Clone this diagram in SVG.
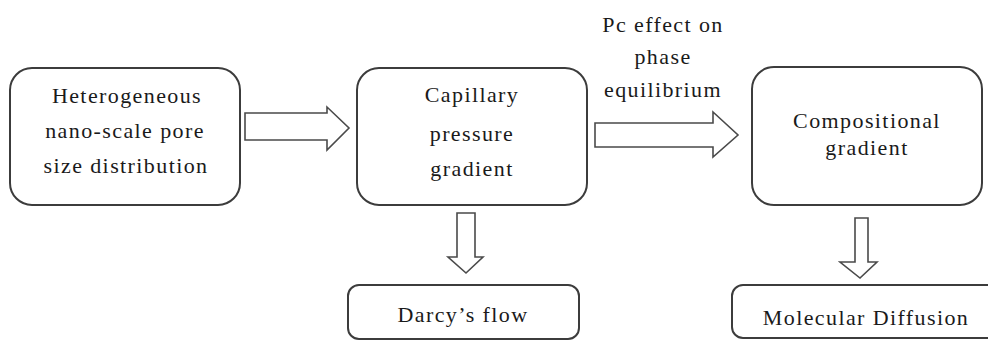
<svg xmlns="http://www.w3.org/2000/svg" width="988" height="343" viewBox="0 0 988 343">
<style>
.box{fill:#fff;stroke:#3c3c3c;stroke-width:2}
.arr{fill:#fff;stroke:#4a4a4a;stroke-width:1.6;stroke-linejoin:miter}
.t{font-family:'Liberation Serif',serif;font-size:22px;fill:#1a1a1a;text-anchor:middle;letter-spacing:1.4px}
</style>
<rect width="988" height="343" fill="#fff"/>
<g id="connectors">
<path class="arr" d="M245,113 H327 V107 L349,128 L327,150 V140 H245 Z"/>
<path class="arr" d="M595,123 H713 V112 L738,135 L713,157 V147 H595 Z"/>
<path class="arr" d="M457,213 H475 V257 H483 L466,273 L448,257 H457 Z"/>
<path class="arr" d="M855,218 H868 V262 H877 L860,278 L840,262 H855 Z"/>
</g>
<g id="node-pore">
<rect class="box" x="10" y="68" width="230" height="137" rx="22"/>
<text class="t" x="127" y="103">Heterogeneous</text>
<text class="t" x="125" y="138">nano-scale pore</text>
<text class="t" x="126" y="173">size distribution</text>
</g>
<g id="node-capillary">
<rect class="box" x="357" y="68" width="230" height="137" rx="22"/>
<text class="t" x="472" y="102">Capillary</text>
<text class="t" x="472" y="141">pressure</text>
<text class="t" x="472" y="176">gradient</text>
</g>
<g id="label-pc">
<text class="t" x="663" y="32">Pc effect on</text>
<text class="t" x="663" y="64">phase</text>
<text class="t" x="663" y="97">equilibrium</text>
</g>
<g id="node-compositional">
<rect class="box" x="752" y="67" width="230" height="138" rx="22"/>
<text class="t" x="867" y="128">Compositional</text>
<text class="t" x="867" y="155">gradient</text>
</g>
<g id="node-darcy">
<rect class="box" x="348" y="285" width="231" height="54" rx="11"/>
<text class="t" x="463" y="322">Darcy’s flow</text>
</g>
<g id="node-diffusion">
<rect class="box" x="732" y="285" width="270" height="53" rx="11"/>
<text class="t" x="866" y="325">Molecular Diffusion</text>
</g>
</svg>
